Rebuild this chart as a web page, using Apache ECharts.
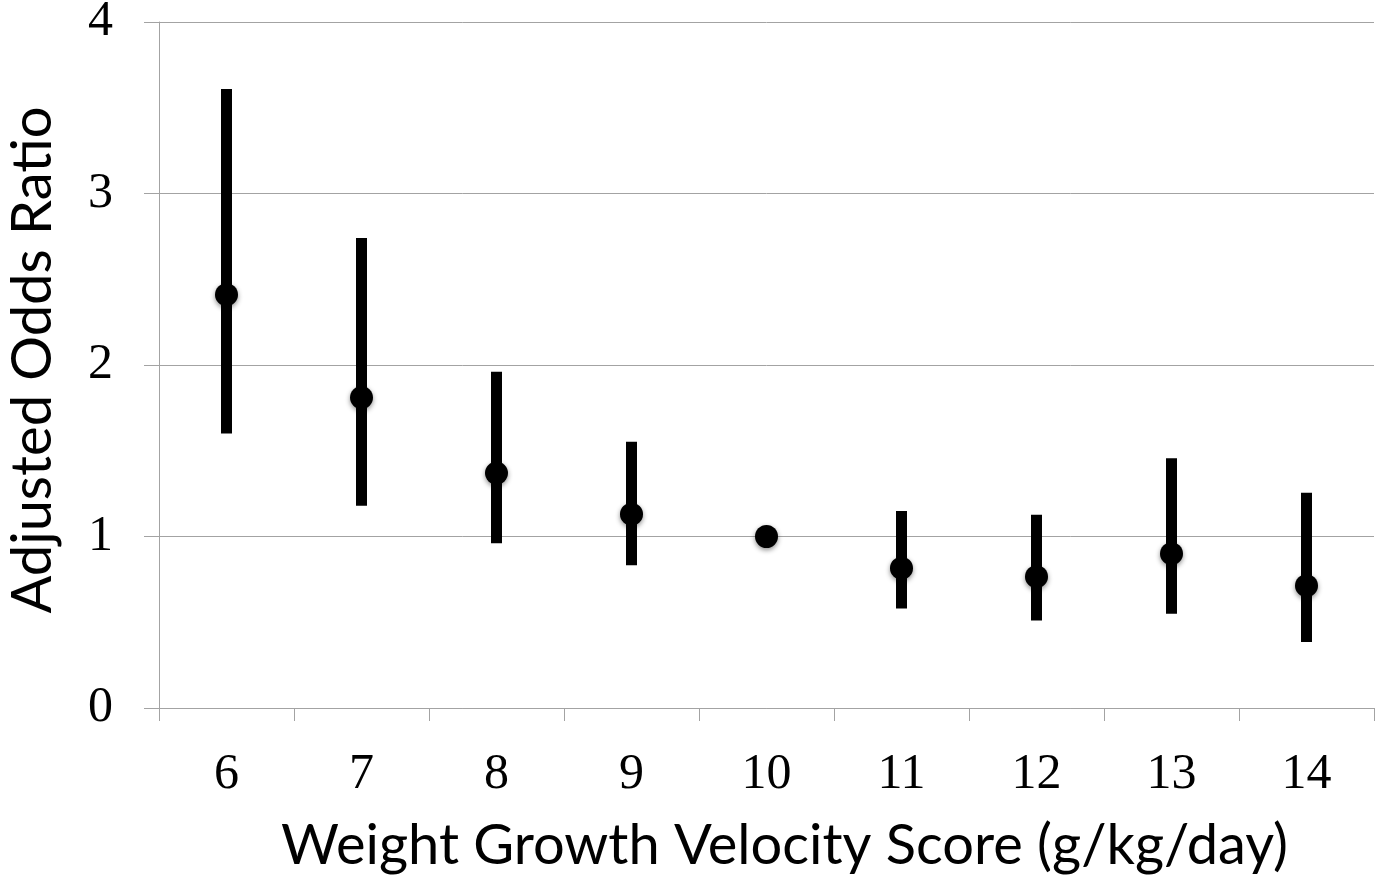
<!DOCTYPE html>
<html>
<head>
<meta charset="utf-8">
<title>Adjusted Odds Ratio</title>
<script src="https://cdn.jsdelivr.net/npm/echarts@6/dist/echarts.min.js"></script>
<style>
	html,body{margin:0;padding:0;background:#fff;}
	#chart{width:1387px;height:876px;}
</style>
</head>
<body>
<div id="chart"></div>
<script>
	// 体重增长速度分数
	var categories = ["6","7","8","9","10","11","12","13","14"];
	var oddsRatio = [2.41, 1.81, 1.37, 1.13, 1.0, 0.815, 0.766, 0.90, 0.713];
	var ciLow = [1.60, 1.18, 0.96, 0.832, null, 0.58, 0.51, 0.55, 0.385];
	var ciHigh = [3.61, 2.74, 1.96, 1.553, null, 1.149, 1.127, 1.456, 1.255];
	var yTicks = [0, 1, 2, 3, 4];

	var gridColor = "#a3a3a3";

	var errorData = [];
	for (var i = 0; i < categories.length; i++) {
		errorData.push([i, ciLow[i], ciHigh[i]]);
	}

	var option = {
		animation: false,
		backgroundColor: "#fff",
		grid: {
			left: 159,
			right: 13,
			top: 22,
			bottom: 168,
			containLabel: false,
			outerBoundsMode: "none"
		},
		xAxis: {
			type: "category",
			data: categories,
			boundaryGap: true,
			name: "Weight Growth Velocity Score (g/kg/day)",
			nameLocation: "middle",
			nameGap: 110,
			nameTextStyle: {
				fontFamily: "Lato",
				fontSize: 56,
				color: "#000",
				padding: [0, 0, 0, 36]
			},
			axisLine: {show: true, lineStyle: {color: gridColor, width: 1}},
			axisTick: {show: true, length: 13, alignWithLabel: false, lineStyle: {color: gridColor}},
			axisLabel: {
				fontFamily: "Liberation Serif",
				fontSize: 50,
				color: "#000",
				margin: 42
			},
			splitLine: {show: false}
		},
		yAxis: {
			type: "value",
			min: yTicks[0],
			max: yTicks[yTicks.length - 1],
			interval: 1,
			name: "Adjusted Odds Ratio",
			nameLocation: "middle",
			nameGap: 98,
			nameTextStyle: {
				fontFamily: "Lato",
				fontSize: 56,
				color: "#000",
				padding: [0, 0, 0, 10]
			},
			axisLine: {show: true, lineStyle: {color: gridColor, width: 1}},
			axisTick: {show: true, length: 15, lineStyle: {color: gridColor}},
			axisLabel: {
				fontFamily: "Liberation Serif",
				fontSize: 50,
				color: "#000",
				margin: 46
			},
			splitLine: {show: true, lineStyle: {color: gridColor, width: 1}}
		},
		series: [
			{
				// 置信区间
				type: "custom",
				data: errorData,
				renderItem: function (params, api) {
					if (api.value(1) == null || isNaN(api.value(1))) return;
					var top = api.coord([api.value(0), api.value(2)]);
					var bottom = api.coord([api.value(0), api.value(1)]);
					var w = 11;
					return {
						type: "rect",
						shape: {x: top[0] - w / 2, y: top[1], width: w, height: bottom[1] - top[1]},
						style: {fill: "#000"}
					};
				},
				z: 2
			},
			{
				type: "scatter",
				data: oddsRatio,
				symbol: "circle",
				symbolSize: 23,
				itemStyle: {
					color: "#000",
					opacity: 1,
					shadowColor: "rgba(0,0,0,0.45)",
					shadowBlur: 5,
					shadowOffsetY: 2
				},
				z: 3
			}
		]
	};

	var mychart = echarts.init(document.getElementById("chart"));
	mychart.setOption(option);
</script>
</body>
</html>
